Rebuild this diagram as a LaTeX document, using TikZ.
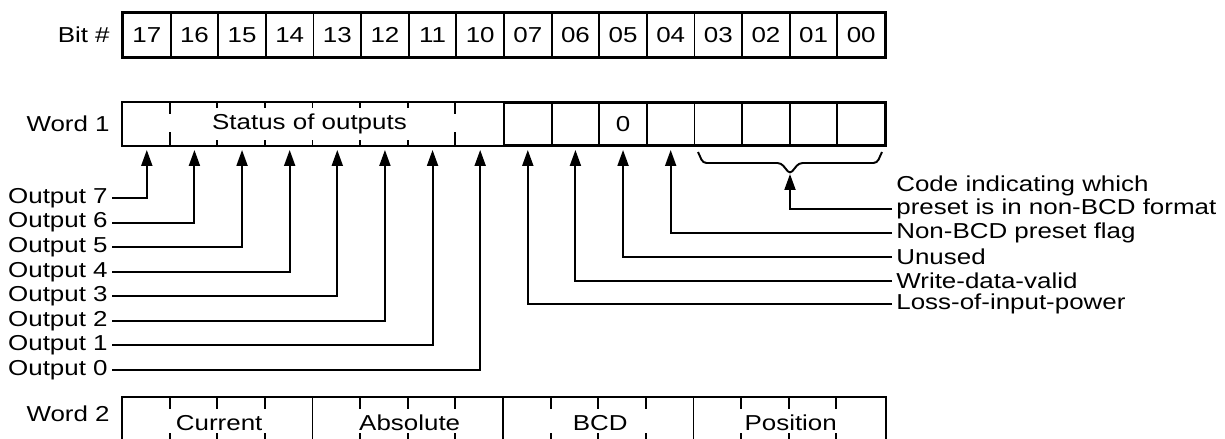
\documentclass[tikz,border=0pt]{standalone}
\usepackage{fontspec}
\setmainfont[FakeStretch=1.2]{Liberation Sans}
\usetikzlibrary{arrows.meta, positioning, calc}

\tikzset{
  bitcell/.style={draw, line width=1.1pt, minimum width=0.9525cm, minimum height=0.88cm, inner sep=0pt},
  wordcell/.style={bitcell, minimum height=0.84cm},
  wordtwo/.style={bitcell, draw=none, minimum height=1.0cm},
  rowlabel/.style={anchor=east, inner sep=0pt},
  sidelabel/.style={anchor=west, inner sep=0pt},
  leader/.style={line width=1.1pt, -{Triangle[length=0.32cm,width=0.22cm]}, shorten >=0.08cm},
  tick/.style={line width=1.1pt},
  frame/.style={line width=1.5pt},
}

\begin{document}
\begin{tikzpicture}[x=0.02cm, y=-0.02cm, font=\fontsize{12.3}{14}\selectfont]
\useasboundingbox (0,0) rectangle (1225,439);
\clip (0,0) rectangle (1225,439);
% bit numbers
\node[rowlabel] (bitlbl) at (110,35) {Bit \#};
\foreach \b [count=\i from 0] in {17,16,15,14,13,12,11,10,07,06,05,04,03,02,01,00}
  \node[bitcell] (b\b) at ({146.8+47.625*\i},35) {\b};
\draw[frame] (b17.north west) rectangle (b00.south east);

% word 1
\node[rowlabel] (wonelbl) at (110,124) {Word 1};
\foreach \b [count=\i from 0] in {17,16,15,14,13,12,11,10}
  \node[wordcell, draw=none] (w\b) at ({146.8+47.625*\i},124) {};
\foreach \b [count=\i from 8] in {07,06,05,04,03,02,01,00}
  \node[wordcell] (w\b) at ({146.8+47.625*\i},124) {};
\node (zero) at (w05) {0};
\node (status) at ([xshift=-0.1cm]w14.east) {Status of outputs};
\foreach \b in {15,14,13,12,11}
  \draw[tick] (w\b.north west) -- ++(0,6) (w\b.south west) -- ++(0,-6);
\foreach \b in {16,10}
  \draw[tick] (w\b.north west) -- ++(0,12) (w\b.south west) -- ++(0,-14);
\draw[frame] (w17.north west) rectangle (w00.south east);

% status of outputs
\foreach \b [count=\k from 0] in {17,16,15,14,13,12,11,10} {
  \pgfmathtruncatemacro\o{7-\k}
  \node[rowlabel] (out\o) at (108,{198+24.57*\k}) {Output \o};
  \draw[leader] ([xshift=0.08cm]out\o.east) -| (w\b.south);
}

% flags and code
\node[sidelabel] (codea) at (896,186) {Code indicating which};
\node[sidelabel] (codeb) at (896,209) {preset is in non-BCD format};
\node[sidelabel] (flag) at (896,233) {Non-BCD preset flag};
\node[sidelabel] (unused) at (896,257) {Unused};
\node[sidelabel] (valid) at (896,281) {Write-data-valid};
\node[sidelabel] (power) at (896,304) {Loss-of-input-power};
\draw[leader] ([xshift=-0.08cm]flag.west) -| (w04.south);
\draw[leader] ([xshift=-0.08cm]unused.west) -| (w05.south);
\draw[leader] ([xshift=-0.08cm]valid.west) -| (w06.south);
\draw[leader] ([xshift=-0.08cm]power.west) -| (w07.south);
% brace over bits 03-00
\coordinate (brtip) at (790,174);
\draw[tick, rounded corners=2pt] (698,152) -- (703,163) -- (781,163) -- (brtip)
  -- (799,163) -- (877,163) -- (882,152);
\draw[leader, shorten >=0pt] ([xshift=-0.08cm]codeb.west) -| (brtip);

% word 2
\node[rowlabel] (wtwolbl) at (110,414) {Word 2};
\foreach \b [count=\i from 0] in {17,16,15,14,13,12,11,10,07,06,05,04,03,02,01,00}
  \node[wordtwo] (v\b) at ({146.8+47.625*\i},423) {};
\foreach \b in {13,07,03}
  \draw[tick] (v\b.north west) -- (v\b.south west);
\foreach \b in {16,15,14,12,11,10,06,05,04,02,01,00}
  \draw[tick] (v\b.north west) -- ++(0,12) (v\b.south west) -- ++(0,-16);
\draw[frame] (v17.north west) rectangle (v00.south east);
\node (current) at (v16.east) {Current};
\node (absolute) at (v12.east) {Absolute};
\node (bcd) at (v06.east) {BCD};
\node (position) at (v02.east) {Position};
\end{tikzpicture}
\end{document}
